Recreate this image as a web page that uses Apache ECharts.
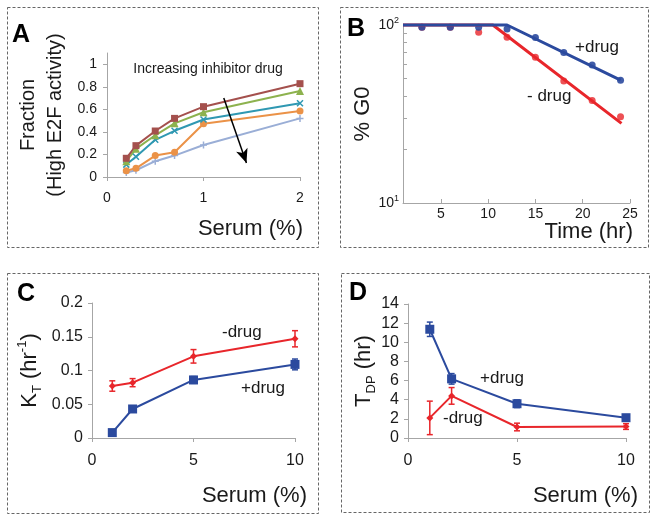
<!DOCTYPE html>
<html><head><meta charset="utf-8">
<script src="https://cdn.jsdelivr.net/npm/echarts@6/dist/echarts.min.js"></script>
<style>html,body{margin:0;padding:0;background:#fff}#c{width:656px;height:519px}</style>
</head><body><div id="c"></div>
<script>
// ---- Panel A data ----
const serumA = [0.2, 0.3, 0.5, 0.7, 1, 2];
const fracA1 = [0.166, 0.278, 0.408, 0.52, 0.624, 0.828];
const fracA2 = [0.14, 0.25, 0.37, 0.476, 0.574, 0.763];
const fracA3 = [0.11, 0.18, 0.33, 0.41, 0.51, 0.654];
const fracA4 = [0.056, 0.077, 0.19, 0.22, 0.473, 0.586];
const fracA5 = [0.04, 0.06, 0.14, 0.19, 0.284, 0.52];
const arrowA = [[1.21, 0.70], [1.445, 0.124]];
// ---- Panel B data ----
const timeB = [3, 6, 9, 12, 15, 18, 21, 24];
const g0Plus = [97, 97, 97, 95, 85, 70, 59.6, 49];
const g0Minus = [97, 97, 91, 85.3, 65.8, 48.4, 37.6, 30.5];
const fitPlusT = [1, 12, 24];
const fitPlusV = [100, 100, 49];
const fitMinusT = [1, 10.5, 24.1];
const fitMinusV = [100, 100, 28];
const xTicksB = [5, 10, 15, 20, 25];
const yMinorB = [10, 20, 30, 40, 50, 60, 70, 80, 90, 100];
// ---- Panel C data ----
const serumCD = [1, 2, 5, 10];
const ktMinus = [0.077, 0.082, 0.121, 0.147];
const ktMinusErr = [0.0077, 0.006, 0.01, 0.012];
const ktPlus = [0.008, 0.043, 0.086, 0.109];
const ktPlusErr = [0.002, 0.003, 0.005, 0.008];
// ---- Panel D data ----
const tdpPlus = [11.36, 6.18, 3.58, 2.12];
const tdpPlusErr = [0.75, 0.55, 0.4, 0.25];
const tdpMinus = [2.1, 4.4, 1.15, 1.2];
const tdpMinusErr = [1.75, 0.87, 0.4, 0.3];

const FONT = '"Liberation Sans", Arial, sans-serif';
const AX = '#A6A6A6';
const TXT = '#1a1a1a';
const BLUE = '#2B4A9E';
const RED = '#E8262B';
const zip = (xs, ys) => xs.map((x, i) => [x, ys[i]]);
const errData = (xs, v, e) => xs.map((x, i) => [x, v[i] - e[i], v[i] + e[i]]);

function errBar(color) {
  return function (params, api) {
    const x = api.value(0), lo = api.value(1), hi = api.value(2);
    const p1 = api.coord([x, lo]), p2 = api.coord([x, hi]);
    const w = 3, st = { stroke: color, lineWidth: 1.5 };
    return { type: 'group', children: [
      { type: 'line', shape: { x1: p1[0], y1: p1[1], x2: p2[0], y2: p2[1] }, style: st },
      { type: 'line', shape: { x1: p1[0] - w, y1: p1[1], x2: p1[0] + w, y2: p1[1] }, style: st },
      { type: 'line', shape: { x1: p2[0] - w, y1: p2[1], x2: p2[0] + w, y2: p2[1] }, style: st }
    ]};
  };
}

function baseAxis(extra) {
  return Object.assign({
    type: 'value',
    splitLine: { show: false },
    nameMoveOverlap: false,
    axisLine: { show: true, lineStyle: { color: AX, width: 1 } },
    axisTick: { show: true, length: 4, lineStyle: { color: AX } },
    axisLabel: { color: TXT, fontFamily: FONT, fontSize: 14 },
    nameTextStyle: { color: TXT, fontFamily: FONT, fontSize: 22 }
  }, extra);
}

const chart = echarts.init(document.getElementById('c'), null, { renderer: 'canvas' });

const rich = {
  m: { fontSize: 22, fontFamily: FONT, color: TXT, lineHeight: 28 },
  sub: { fontSize: 13, fontFamily: FONT, color: TXT, verticalAlign: 'bottom', lineHeight: 13 },
  sup: { fontSize: 13, fontFamily: FONT, color: TXT, verticalAlign: 'top', lineHeight: 13 }
};

const option = {
  animation: false,
  backgroundColor: '#fff',
  grid: [
    { left: 107, top: 53, width: 193, height: 124, outerBoundsMode: 'none' },
    { left: 403, top: 25, width: 227, height: 178, outerBoundsMode: 'none' },
    { left: 92, top: 303, width: 203, height: 135, outerBoundsMode: 'none' },
    { left: 408, top: 304, width: 218, height: 134, outerBoundsMode: 'none' }
  ],
  xAxis: [
    baseAxis({ gridIndex: 0, min: 0, max: 2, interval: 1,
      axisLabel: { color: TXT, fontFamily: FONT, fontSize: 14, margin: 14 },
      name: 'Serum (%)', nameLocation: 'end', nameGap: 3,
      nameTextStyle: { color: TXT, fontFamily: FONT, fontSize: 22, align: 'right', verticalAlign: 'top', padding: [41, 0, 0, 0] } }),
    baseAxis({ gridIndex: 1, min: 1, max: 25,
      axisTick: { show: true, inside: true, length: 4, lineStyle: { color: AX }, customValues: xTicksB },
      axisLabel: { color: TXT, fontFamily: FONT, fontSize: 14, margin: 4, customValues: xTicksB },
      name: 'Time (hr)', nameLocation: 'end', nameGap: 3,
      nameTextStyle: { color: TXT, fontFamily: FONT, fontSize: 22, align: 'right', verticalAlign: 'top', padding: [18, 0, 0, 0] } }),
    baseAxis({ gridIndex: 2, min: 0, max: 10, interval: 5,
      axisLabel: { color: TXT, fontFamily: FONT, fontSize: 16, margin: 15 },
      name: 'Serum (%)', nameLocation: 'end', nameGap: 12,
      nameTextStyle: { color: TXT, fontFamily: FONT, fontSize: 22, align: 'right', verticalAlign: 'top', padding: [47, 0, 0, 0] } }),
    baseAxis({ gridIndex: 3, min: 0, max: 10, interval: 5,
      axisLabel: { color: TXT, fontFamily: FONT, fontSize: 16, margin: 15 },
      name: 'Serum (%)', nameLocation: 'end', nameGap: 12,
      nameTextStyle: { color: TXT, fontFamily: FONT, fontSize: 22, align: 'right', verticalAlign: 'top', padding: [47, 0, 0, 0] } })
  ],
  yAxis: [
    baseAxis({ gridIndex: 0, min: 0, max: 1.1, interval: 0.2,
      axisLabel: { color: TXT, fontFamily: FONT, fontSize: 14, margin: 10, showMaxLabel: false },
      name: 'Fraction\n(High E2F activity)', nameLocation: 'middle', nameRotate: 90, nameGap: 38,
      nameTextStyle: { color: TXT, fontFamily: FONT, fontSize: 20, lineHeight: 27 } }),
    baseAxis({ gridIndex: 1, type: 'log', logBase: 10, min: 10, max: 100,
      axisTick: { show: true, inside: true, length: 4, lineStyle: { color: AX }, customValues: yMinorB },
      axisLabel: { margin: 4, formatter: v => (v >= 100 ? '{b|10}{s|2}' : '{b|10}{s|1}'),
        rich: { b: { fontSize: 14, fontFamily: FONT, color: TXT, lineHeight: 18 },
                s: { fontSize: 9, fontFamily: FONT, color: TXT, verticalAlign: 'top', lineHeight: 10 } } },
      name: '% G0', nameLocation: 'middle', nameRotate: 90, nameGap: 29,
      nameTextStyle: { color: TXT, fontFamily: FONT, fontSize: 22 } }),
    baseAxis({ gridIndex: 2, min: 0, max: 0.2, interval: 0.05,
      axisLabel: { color: TXT, fontFamily: FONT, fontSize: 16, margin: 9 },
      name: '{m|K}{sub|T}{m| (hr}{sup|-1}{m|)}', nameLocation: 'middle', nameRotate: 90, nameGap: 48,
      nameTextStyle: { rich: rich } }),
    baseAxis({ gridIndex: 3, min: 0, max: 14, interval: 2,
      axisLabel: { color: TXT, fontFamily: FONT, fontSize: 16, margin: 9 },
      name: '{m|T}{sub|DP}{m| (hr)}', nameLocation: 'middle', nameRotate: 90, nameGap: 30,
      nameTextStyle: { rich: rich } })
  ],
  series: [
    // Panel A
    { type: 'line', xAxisIndex: 0, yAxisIndex: 0, data: zip(serumA, fracA5), color: '#9AAED6',
      lineStyle: { width: 2 }, symbol: 'path://M0,-5L0,5M-5,0L5,0', symbolSize: 7, itemStyle: { borderColor: '#9AAED6', borderWidth: 1.5 } },
    { type: 'line', xAxisIndex: 0, yAxisIndex: 0, data: zip(serumA, fracA4), color: '#EB9247',
      lineStyle: { width: 2 }, symbol: 'circle', symbolSize: 7, itemStyle: { color: '#EB9247' } },
    { type: 'line', xAxisIndex: 0, yAxisIndex: 0, data: zip(serumA, fracA3), color: '#2F98B2',
      lineStyle: { width: 2 }, symbol: 'path://M-5,-5L5,5M-5,5L5,-5', symbolSize: 6, itemStyle: { borderColor: '#2F98B2', borderWidth: 1.5 } },
    { type: 'line', xAxisIndex: 0, yAxisIndex: 0, data: zip(serumA, fracA2), color: '#8DB24E',
      lineStyle: { width: 2 }, symbol: 'triangle', symbolSize: 8, itemStyle: { color: '#8DB24E' } },
    { type: 'line', xAxisIndex: 0, yAxisIndex: 0, data: zip(serumA, fracA1), color: '#A4504D',
      lineStyle: { width: 2 }, symbol: 'rect', symbolSize: 7, itemStyle: { color: '#A4504D' },
      markLine: { silent: true, symbol: ['none', 'arrow'], symbolSize: [9, 14], label: { show: false },
        lineStyle: { color: '#000', width: 1.5, type: 'solid' },
        data: [[{ coord: arrowA[0] }, { coord: arrowA[1] }]] } },
    // Panel B
    { type: 'scatter', xAxisIndex: 1, yAxisIndex: 1, data: zip(timeB, g0Minus), symbolSize: 7, itemStyle: { color: RED } },
    { type: 'scatter', xAxisIndex: 1, yAxisIndex: 1, data: zip(timeB, g0Plus), symbolSize: 7, itemStyle: { color: BLUE, opacity: 0.9 } },
    { type: 'line', xAxisIndex: 1, yAxisIndex: 1, data: zip(fitMinusT, fitMinusV), symbol: 'none', clip: false,
      lineStyle: { color: RED, width: 3 } },
    { type: 'line', xAxisIndex: 1, yAxisIndex: 1, data: zip(fitPlusT, fitPlusV), symbol: 'none', clip: false,
      lineStyle: { color: BLUE, width: 3 } },
    // Panel C
    { type: 'custom', xAxisIndex: 2, yAxisIndex: 2, data: errData(serumCD, ktMinus, ktMinusErr),
      encode: { x: 0, y: [1, 2] }, renderItem: errBar(RED), z: 3 },
    { type: 'custom', xAxisIndex: 2, yAxisIndex: 2, data: errData(serumCD, ktPlus, ktPlusErr),
      encode: { x: 0, y: [1, 2] }, renderItem: errBar(BLUE), z: 3 },
    { type: 'line', xAxisIndex: 2, yAxisIndex: 2, data: zip(serumCD, ktMinus), color: RED,
      lineStyle: { width: 2 }, symbol: 'diamond', symbolSize: 7, itemStyle: { color: RED } },
    { type: 'line', xAxisIndex: 2, yAxisIndex: 2, data: zip(serumCD, ktPlus), color: BLUE,
      lineStyle: { width: 2 }, symbol: 'rect', symbolSize: 9, itemStyle: { color: BLUE } },
    // Panel D
    { type: 'custom', xAxisIndex: 3, yAxisIndex: 3, data: errData(serumCD, tdpMinus, tdpMinusErr),
      encode: { x: 0, y: [1, 2] }, renderItem: errBar(RED), z: 3 },
    { type: 'custom', xAxisIndex: 3, yAxisIndex: 3, data: errData(serumCD, tdpPlus, tdpPlusErr),
      encode: { x: 0, y: [1, 2] }, renderItem: errBar(BLUE), z: 3 },
    { type: 'line', xAxisIndex: 3, yAxisIndex: 3, data: zip(serumCD, tdpMinus), color: RED,
      lineStyle: { width: 2 }, symbol: 'diamond', symbolSize: 7, itemStyle: { color: RED } },
    { type: 'line', xAxisIndex: 3, yAxisIndex: 3, data: zip(serumCD, tdpPlus), color: BLUE,
      lineStyle: { width: 2 }, symbol: 'rect', symbolSize: 9, itemStyle: { color: BLUE } }
  ],
  graphic: [
    { type: 'rect', shape: { x: 7.5, y: 7.5, width: 311, height: 240 }, style: { fill: 'none', stroke: '#666', lineWidth: 1, lineDash: [3, 2] }, silent: true },
    { type: 'rect', shape: { x: 340.5, y: 7.5, width: 308, height: 240 }, style: { fill: 'none', stroke: '#666', lineWidth: 1, lineDash: [3, 2] }, silent: true },
    { type: 'rect', shape: { x: 7.5, y: 273.5, width: 311, height: 240 }, style: { fill: 'none', stroke: '#666', lineWidth: 1, lineDash: [3, 2] }, silent: true },
    { type: 'rect', shape: { x: 341.5, y: 273.5, width: 308, height: 239 }, style: { fill: 'none', stroke: '#666', lineWidth: 1, lineDash: [3, 2] }, silent: true },
    { type: 'text', style: { text: 'A', x: 12, y: 35, font: 'bold 25px ' + FONT, fill: '#000', verticalAlign: 'middle' } },
    { type: 'text', style: { text: 'B', x: 347, y: 29, font: 'bold 25px ' + FONT, fill: '#000', verticalAlign: 'middle' } },
    { type: 'text', style: { text: 'C', x: 17, y: 294, font: 'bold 25px ' + FONT, fill: '#000', verticalAlign: 'middle' } },
    { type: 'text', style: { text: 'D', x: 349, y: 293, font: 'bold 25px ' + FONT, fill: '#000', verticalAlign: 'middle' } },
    { type: 'text', style: { text: 'Increasing inhibitor drug', x: 208, y: 69, font: '14px ' + FONT, fill: TXT, align: 'center', verticalAlign: 'middle' } },
    { type: 'text', style: { text: '+drug', x: 575, y: 47, font: '17px ' + FONT, fill: TXT, verticalAlign: 'middle' } },
    { type: 'text', style: { text: '- drug', x: 527, y: 96, font: '17px ' + FONT, fill: TXT, verticalAlign: 'middle' } },
    { type: 'text', style: { text: '-drug', x: 222, y: 332, font: '17px ' + FONT, fill: TXT, verticalAlign: 'middle' } },
    { type: 'text', style: { text: '+drug', x: 241, y: 388, font: '17px ' + FONT, fill: TXT, verticalAlign: 'middle' } },
    { type: 'text', style: { text: '+drug', x: 480, y: 378, font: '17px ' + FONT, fill: TXT, verticalAlign: 'middle' } },
    { type: 'text', style: { text: '-drug', x: 443, y: 418, font: '17px ' + FONT, fill: TXT, verticalAlign: 'middle' } }
  ]
};
chart.setOption(option);
</script></body></html>
